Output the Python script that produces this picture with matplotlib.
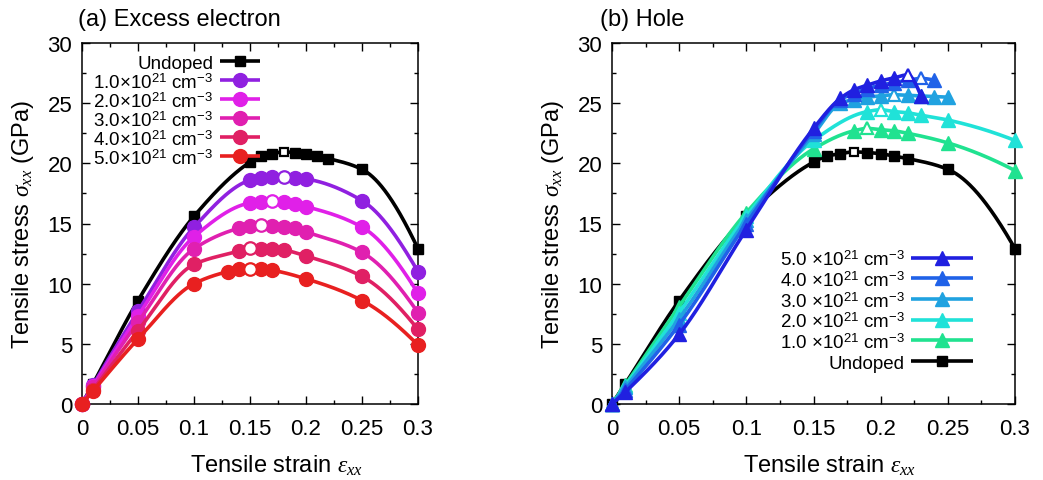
import numpy as np
import matplotlib
matplotlib.use("Agg")
import matplotlib.pyplot as plt
from matplotlib.ticker import MultipleLocator, FuncFormatter

plt.rcParams["font.family"] = ["Liberation Sans", "DejaVu Sans"]
plt.rcParams["mathtext.fontset"] = "custom"
plt.rcParams["mathtext.rm"] = "Liberation Sans"
plt.rcParams["mathtext.it"] = "Liberation Serif:italic"
plt.rcParams["mathtext.bf"] = "Liberation Sans:bold"
plt.rcParams["font.size"] = 16

# ---------------- data: tensile strain / stress (GPa) ----------------
undoped_strain = [0, 0.01, 0.05, 0.10, 0.15, 0.16, 0.17, 0.18, 0.19, 0.20, 0.21, 0.22, 0.25, 0.30]
undoped_stress = [0, 1.7, 8.6, 15.6, 20.1, 20.6, 20.8, 20.95, 20.9, 20.8, 20.6, 20.4, 19.5, 12.9]

# (a) excess electron doping
e1_strain = [0, 0.01, 0.05, 0.10, 0.15, 0.16, 0.17, 0.18, 0.19, 0.20, 0.25, 0.30]
e1_stress = [0, 1.6, 7.7, 14.7, 18.6, 18.8, 18.85, 18.9, 18.8, 18.7, 16.9, 11.0]
e2_strain = [0, 0.01, 0.05, 0.10, 0.15, 0.16, 0.17, 0.18, 0.19, 0.20, 0.25, 0.30]
e2_stress = [0, 1.5, 7.3, 13.9, 16.7, 16.8, 16.9, 16.8, 16.6, 16.4, 14.7, 9.2]
e3_strain = [0, 0.01, 0.05, 0.10, 0.14, 0.15, 0.16, 0.17, 0.18, 0.19, 0.20, 0.25, 0.30]
e3_stress = [0, 1.4, 6.8, 12.9, 14.6, 14.8, 14.9, 14.8, 14.7, 14.6, 14.3, 12.6, 7.6]
e4_strain = [0, 0.01, 0.05, 0.10, 0.14, 0.15, 0.16, 0.17, 0.18, 0.20, 0.25, 0.30]
e4_stress = [0, 1.2, 6.1, 11.6, 12.7, 12.95, 12.9, 12.9, 12.8, 12.3, 10.6, 6.2]
e5_strain = [0, 0.01, 0.05, 0.10, 0.13, 0.14, 0.15, 0.16, 0.17, 0.20, 0.25, 0.30]
e5_stress = [0, 1.1, 5.4, 10.0, 11.0, 11.2, 11.25, 11.2, 11.1, 10.4, 8.6, 4.9]

# (b) hole doping
h1_strain = [0, 0.01, 0.05, 0.10, 0.15, 0.18, 0.19, 0.20, 0.21, 0.22, 0.25, 0.30]
h1_stress = [0, 1.6, 8.1, 15.9, 21.2, 22.7, 22.9, 22.8, 22.7, 22.5, 21.7, 19.4]
h2_strain = [0, 0.01, 0.05, 0.10, 0.15, 0.19, 0.20, 0.21, 0.22, 0.23, 0.25, 0.30]
h2_stress = [0, 1.5, 7.6, 15.6, 21.9, 24.3, 24.45, 24.3, 24.2, 24.0, 23.6, 21.9]
h3_strain = [0, 0.01, 0.05, 0.10, 0.15, 0.17, 0.18, 0.19, 0.20, 0.21, 0.22, 0.23, 0.24, 0.25]
h3_stress = [0, 1.4, 7.1, 15.3, 22.4, 25.0, 25.3, 25.5, 25.6, 25.7, 25.65, 25.6, 25.55, 25.5]
h4_strain = [0, 0.01, 0.05, 0.10, 0.15, 0.17, 0.18, 0.19, 0.20, 0.21, 0.22, 0.23, 0.24]
h4_stress = [0, 1.2, 6.6, 15.0, 22.7, 25.3, 25.8, 26.2, 26.5, 26.7, 26.9, 27.05, 26.9]
h5_strain = [0, 0.01, 0.05, 0.10, 0.15, 0.17, 0.18, 0.19, 0.20, 0.21, 0.22, 0.23]
h5_stress = [0, 1.0, 5.8, 14.5, 22.9, 25.4, 26.1, 26.5, 26.85, 27.1, 27.35, 25.6]

electron_labels = ["Undoped"] + [f"{c}×10$^{{21}}$ cm$^{{-3}}$" for c in ("1.0", "2.0", "3.0", "4.0", "5.0")]
hole_labels = [f"{c} ×10$^{{21}}$ cm$^{{-3}}$" for c in ("5.0", "4.0", "3.0", "2.0", "1.0")] + ["Undoped"]

electron_colors = ["#000000", "#9020e0", "#e020e8", "#e020b0", "#e02064", "#e82020"]
hole_colors = ["#2020e0", "#2062e8", "#20a2e0", "#20e2d8", "#20e290", "#000000"]

x_ticks = [0, 0.05, 0.10, 0.15, 0.20, 0.25, 0.30]
y_ticks = [0, 5, 10, 15, 20, 25, 30]


def pchip(x, y, xs):
    """Shape-preserving piecewise cubic Hermite interpolation."""
    x = np.asarray(x, float)
    y = np.asarray(y, float)
    h = np.diff(x)
    d = np.diff(y) / h
    n = len(x)
    m = np.zeros(n)
    for k in range(1, n - 1):
        if d[k - 1] * d[k] > 0:
            w1 = 2 * h[k] + h[k - 1]
            w2 = h[k] + 2 * h[k - 1]
            m[k] = (w1 + w2) / (w1 / d[k - 1] + w2 / d[k])

    def end(h0, h1, d0, d1):
        s = ((2 * h0 + h1) * d0 - h0 * d1) / (h0 + h1)
        if np.sign(s) != np.sign(d0):
            s = 0.0
        elif np.sign(d0) != np.sign(d1) and abs(s) > abs(3 * d0):
            s = 3 * d0
        return s

    m[0] = end(h[0], h[1], d[0], d[1])
    m[-1] = end(h[-1], h[-2], d[-1], d[-2])
    idx = np.clip(np.searchsorted(x, xs) - 1, 0, n - 2)
    t = (xs - x[idx]) / h[idx]
    h00 = 2 * t**3 - 3 * t**2 + 1
    h10 = t**3 - 2 * t**2 + t
    h01 = -2 * t**3 + 3 * t**2
    h11 = t**3 - t**2
    return h00 * y[idx] + h10 * h[idx] * m[idx] + h01 * y[idx + 1] + h11 * h[idx] * m[idx + 1]


def draw_series(ax, strain, stress, color, marker, ms, z):
    x = np.asarray(strain, float)
    y = np.asarray(stress, float)
    xs = np.linspace(x[0], x[-1], 600)
    ax.plot(xs, pchip(x, y, xs), color=color, lw=2.6, zorder=z, clip_on=False,
            solid_capstyle="butt")
    peak = int(np.argmax(y))
    filled = np.arange(len(x)) != peak
    ax.plot(x[filled], y[filled], ls="none", marker=marker, ms=ms, mfc=color,
            mec=color, mew=1.0, zorder=z + 0.5, clip_on=False)
    ax.plot(x[peak], y[peak], ls="none", marker=marker, ms=ms - 1, mfc="white",
            mec=color, mew=1.6, zorder=z + 0.6, clip_on=False)


def draw_key(ax, labels, colors, markers, sizes, x_text, x0, x1, y_top, dy):
    for i, (lab, col, mk, ms) in enumerate(zip(labels, colors, markers, sizes)):
        yy = y_top - i * dy
        ax.plot([x0, x1], [yy, yy], color=col, lw=2.6, transform=ax.transAxes,
                clip_on=False, zorder=20, solid_capstyle="butt")
        ax.plot([(x0 + x1) / 2], [yy], marker=mk, ms=ms, color=col,
                transform=ax.transAxes, clip_on=False, zorder=21)
        ax.text(x_text, yy, lab, ha="right", va="center_baseline", fontsize=13.5,
                transform=ax.transAxes, zorder=21)


def style_axes(ax, title, title_x, xlabel_x):
    ax.set_xlim(0, 0.3)
    ax.set_ylim(0, 30)
    ax.xaxis.set_minor_locator(MultipleLocator(0.025))
    ax.yaxis.set_minor_locator(MultipleLocator(2.5))
    ax.set_xticks(x_ticks)
    ax.set_yticks(y_ticks)
    ax.xaxis.set_major_formatter(FuncFormatter(lambda v, _: f"{v:g}"))
    ax.yaxis.set_major_formatter(FuncFormatter(lambda v, _: f"{v:g}"))
    ax.tick_params(which="both", direction="in", top=True, right=True, width=1.0)
    ax.tick_params(which="major", length=6)
    ax.tick_params(which="minor", length=3)
    ax.tick_params(axis="x", which="major", pad=10, labelsize=16)
    ax.tick_params(axis="y", which="major", pad=7, labelsize=16)
    for s in ax.spines.values():
        s.set_linewidth(1.1)
    ax.set_xlabel(r"Tensile strain $\varepsilon_{xx}$", fontsize=17, labelpad=10)
    ax.xaxis.set_label_coords(xlabel_x, -0.135)
    ax.set_ylabel(r"Tensile stress $\sigma_{xx}$ (GPa)", fontsize=17, labelpad=8)
    ax.text(title_x, 1.05, title, transform=ax.transAxes, ha="left", va="baseline",
            fontsize=17)


fig = plt.figure(figsize=(10.43, 4.81), dpi=100)
W, H = 1043, 481
axL = fig.add_axes([82 / W, 1 - 405 / H, 336 / W, 361 / H])
axR = fig.add_axes([612 / W, 1 - 405 / H, 403 / W, 361 / H])

# (a) excess electron
electron_sets = [(undoped_strain, undoped_stress), (e1_strain, e1_stress), (e2_strain, e2_stress),
                 (e3_strain, e3_stress), (e4_strain, e4_stress), (e5_strain, e5_stress)]
for i, ((sx, sy), col) in enumerate(zip(electron_sets, electron_colors)):
    if i == 0:
        draw_series(axL, sx, sy, col, "s", 7, 2 + i)
    else:
        draw_series(axL, sx, sy, col, "o", 10, 2 + i)
style_axes(axL, "(a) Excess electron", -0.012, 0.58)
draw_key(axL, electron_labels, electron_colors, ["s"] + ["o"] * 5, [7] + [10] * 5,
         0.39, 0.412, 0.53, 0.950, 0.0526)

# (b) hole
hole_sets = [(h5_strain, h5_stress), (h4_strain, h4_stress), (h3_strain, h3_stress),
             (h2_strain, h2_stress), (h1_strain, h1_stress), (undoped_strain, undoped_stress)]
for i, ((sx, sy), col) in enumerate(zip(hole_sets[::-1], hole_colors[::-1])):
    if i == 0:
        draw_series(axR, sx, sy, col, "s", 7, 2 + i)
    else:
        draw_series(axR, sx, sy, col, "^", 10, 2 + i)
style_axes(axR, "(b) Hole", -0.03, 0.54)
draw_key(axR, hole_labels, hole_colors, ["^"] * 5 + ["s"], [10] * 5 + [7],
         0.727, 0.742, 0.897, 0.405, 0.0572)

fig.savefig("out.png", dpi=100)
